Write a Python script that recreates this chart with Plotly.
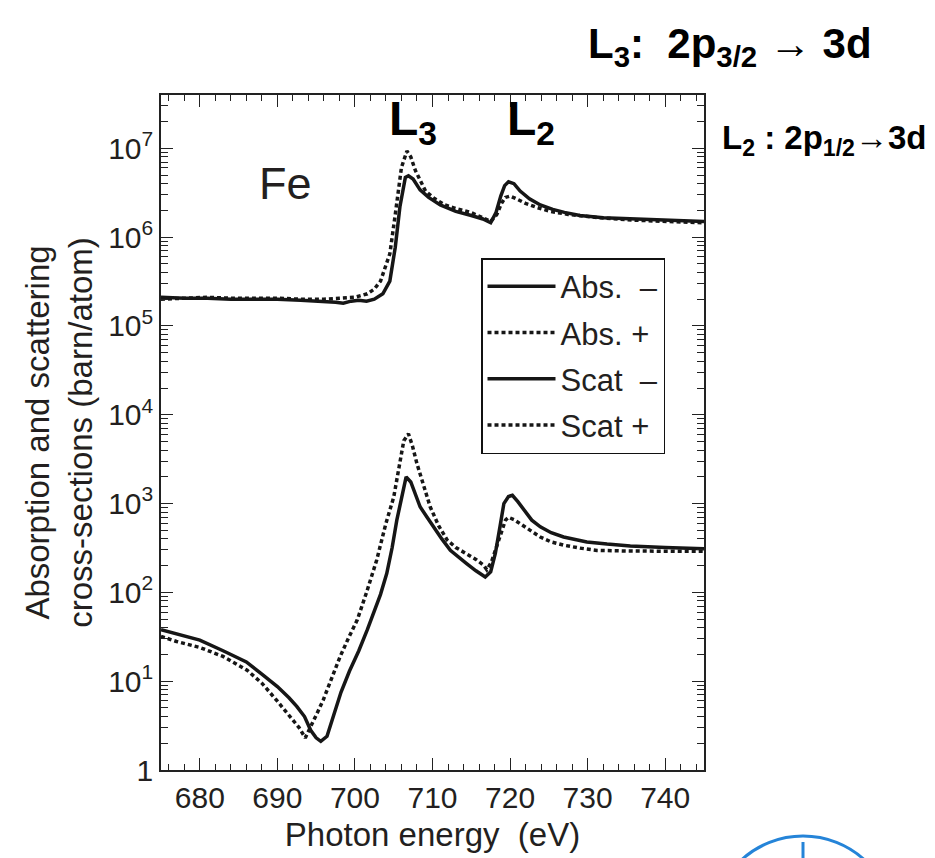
import plotly.graph_objects as go

# ---- Fe L-edge absorption and scattering cross-sections (barn/atom) ----
abs_minus_E = [675, 678, 681, 684, 687, 690, 693, 696, 697.5, 698.5, 699.5, 700.5, 701.5, 702.5,
               703.6, 704.5, 705.2, 705.8, 706.5, 706.9, 707.5, 708.4, 709.5, 711, 713, 715,
               716.5, 717.5, 718.2, 718.8, 719.3, 719.8, 720.5, 721.3, 722.5, 723.9, 725.5, 727,
               729, 732, 736, 740, 745]
abs_minus = [2.1e5, 2.05e5, 2.05e5, 2.0e5, 2.0e5, 2.0e5, 1.95e5, 1.9e5, 1.85e5, 1.8e5, 1.9e5,
             1.95e5, 1.9e5, 2.0e5, 2.3e5, 3.2e5, 7.7e5, 2.2e6, 4.7e6, 4.9e6, 4.5e6, 3.4e6,
             2.8e6, 2.3e6, 1.95e6, 1.75e6, 1.6e6, 1.45e6, 1.9e6, 2.9e6, 3.8e6, 4.2e6, 4.0e6,
             3.3e6, 2.7e6, 2.3e6, 2.05e6, 1.9e6, 1.75e6, 1.65e6, 1.6e6, 1.55e6, 1.5e6]

abs_plus_E = [675, 678, 681, 684, 687, 690, 693, 696, 698, 700, 701.6, 702.5, 703.3, 704.5,
              705.2, 706, 706.7, 707.2, 707.8, 708.4, 709.1, 710.3, 711.6, 713, 714.9, 716.5,
              717.5, 718.3, 718.9, 719.4, 720, 720.8, 722, 723.5, 725.2, 727.5, 731.6, 736,
              740, 745]
abs_plus = [2.0e5, 2.05e5, 2.1e5, 2.05e5, 2.05e5, 2.05e5, 2.0e5, 2.0e5, 2.05e5, 2.1e5, 2.3e5,
            2.6e5, 3.2e5, 6.5e5, 1.8e6, 6.1e6, 9.3e6, 8.0e6, 5.6e6, 4.3e6, 3.3e6, 2.7e6,
            2.3e6, 2.1e6, 1.9e6, 1.65e6, 1.5e6, 1.8e6, 2.4e6, 2.8e6, 2.9e6, 2.7e6, 2.4e6,
            2.15e6, 1.95e6, 1.8e6, 1.65e6, 1.55e6, 1.5e6, 1.45e6]

scat_minus_E = [675, 677, 680, 683, 686, 688, 690, 691.5, 692.5, 693.5, 694.3, 695, 695.6,
                696.4, 697.2, 698.2, 699.3, 700.5, 701.6, 702.4, 703.3, 704.1, 704.8, 705.4,
                706, 706.6, 707.2, 708.4, 709.3, 710.1, 711.2, 712.3, 713.3, 714.4, 715.6,
                716.8, 717.5, 718.1, 718.7, 719.2, 719.8, 720.3, 721, 721.8, 722.8, 723.9,
                725.3, 726.9, 728.4, 729.9, 732.5, 735.5, 740, 745]
scat_minus = [38, 34, 29, 22, 16.5, 12, 8.7, 6.5, 5.2, 4.0, 2.8, 2.3, 2.1, 2.4, 4, 7.5, 13,
              22, 38, 58, 95, 163, 320, 650, 1200, 2000, 1750, 920, 700, 546, 400, 297, 250,
              211, 175, 149, 170, 274, 550, 1000, 1200, 1240, 1050, 840, 650, 546, 470, 420,
              390, 370, 350, 333, 320, 310]

scat_plus_E = [675, 677, 680, 683, 686.1, 688, 689.9, 691.5, 692.8, 693.6, 694.5, 695.2,
               695.9, 697, 698.1, 699.2, 700.3, 701.5, 702.8, 704, 705, 705.7, 706.3, 706.9,
               707.4, 708, 708.8, 709.7, 710.8, 711.9, 713, 714.4, 715.6, 716.6, 717, 717.6,
               718.3, 718.9, 719.4, 719.8, 720.5, 721.3, 722.5, 723.9, 725.3, 726.9, 729,
               731.2, 735, 740, 745]
scat_plus = [32, 28, 24, 19, 13.3, 9.5, 6.1, 4.2, 3.0, 2.3, 3.3, 4.5, 6.1, 11, 19, 31, 49,
             100, 230, 600, 1180, 2600, 5100, 6100, 4500, 2800, 1600, 920, 560, 388, 320,
             274, 235, 202, 180, 220, 325, 480, 650, 700, 660, 590, 500, 420, 370, 340, 315,
             297, 292, 290, 290]

series_names = ["Abs.\u00a0\u00a0\u2013", "Abs.\u00a0+", "Scat\u00a0\u00a0\u2013", "Scat\u00a0+"]
x_ticks = [680, 690, 700, 710, 720, 730, 740]
y_tick_exps = [0, 1, 2, 3, 4, 5, 6, 7]

# ---- page geometry (pixels) ----
W, H = 935, 858
ML, MR, MT, MB = 161, 231, 95, 88
PW, PH = W - ML - MR, H - MT - MB


def px(x):
    return (x - ML) / PW


def py(y):
    return (H - MB - y) / PH


INK = "#231f20"
LINE = "#161616"
FONT = "Liberation Sans, Arial, sans-serif"

fig = go.Figure()
styles = [dict(width=3.5), dict(width=3.5, dash="4px,3px"),
          dict(width=3.5), dict(width=3.5, dash="4px,3px")]
data = [(abs_minus_E, abs_minus), (abs_plus_E, abs_plus),
        (scat_minus_E, scat_minus), (scat_plus_E, scat_plus)]
for i, ((xe, yv), name, st) in enumerate(zip(data, series_names, styles)):
    fig.add_trace(go.Scatter(x=xe, y=yv, mode="lines", name=name, legendgroup=f"g{i}",
                             line=dict(color=LINE, **st)))

y_minor = [k * 10 ** d for d in range(0, 8) for k in range(2, 10) if k * 10 ** d < 4e7]

fig.update_layout(
    width=W, height=H,
    margin=dict(l=ML, r=MR, t=MT, b=MB, pad=0),
    paper_bgcolor="white", plot_bgcolor="white",
    font=dict(family=FONT, color=INK, size=29),
    showlegend=True,
    legend=dict(x=px(481), y=py(258), xanchor="left", yanchor="top",
                bordercolor="#111", borderwidth=1.5, bgcolor="white",
                font=dict(size=31, color=INK), tracegroupgap=3,
                itemwidth=68, traceorder="grouped"),
    xaxis=dict(range=[675, 745], tickmode="array", tickvals=x_ticks,
               ticks="inside", ticklen=12, tickwidth=1.2, tickcolor="#222",
               showline=True, linecolor="#222", linewidth=1.5, mirror="ticks",
               showgrid=False, zeroline=False, tickfont=dict(size=30),
               minor=dict(ticks="inside", ticklen=6, tickwidth=1.1, tickcolor="#222",
                          dtick=2, tick0=676, showgrid=False),
               title=dict(text="Photon energy  (eV)", font=dict(size=33), standoff=10)),
    yaxis=dict(type="log", range=[0, 7.6], tickmode="array",
               tickvals=[10 ** e for e in y_tick_exps],
               ticktext=["1"] + [f"10<sup>{e}</sup>" for e in y_tick_exps[1:]],
               ticks="inside", ticklen=12, tickwidth=1.2, tickcolor="#222",
               showline=True, linecolor="#222", linewidth=1.5, mirror="ticks",
               showgrid=False, zeroline=False, tickfont=dict(size=30),
               minor=dict(ticks="inside", ticklen=7, tickwidth=1.1, tickcolor="#222",
                          tickmode="array", tickvals=y_minor, showgrid=False),
               title=dict(text="Absorption and scattering<br>cross-sections (barn/atom)",
                          font=dict(size=33), standoff=6)),
)

annotations = [
    dict(text="Fe", x=px(285), y=py(183), font=dict(size=45, color=INK)),
    dict(text="<b>L<sub>3</sub></b>", x=px(413), y=py(122), font=dict(size=48, color="black")),
    dict(text="<b>L<sub>2</sub></b>", x=px(531), y=py(122), font=dict(size=48, color="black")),
    dict(text="<b>L<sub>3</sub>:  2p<sub>3/2</sub> \u2192 3d</b>", x=px(730), y=py(47),
         font=dict(size=42, color="black")),
    dict(text="<b>L<sub>2</sub> : 2p<sub>1/2</sub>\u21923d</b>", x=px(824), y=py(140),
         font=dict(size=33, color="black")),
]
for a in annotations:
    a.update(xref="paper", yref="paper", showarrow=False, xanchor="center", yanchor="middle")
fig.update_layout(annotations=annotations)

# pen mark at the bottom right corner of the page
fig.add_shape(type="circle", xref="paper", yref="paper",
              x0=px(712), x1=px(894), y0=py(836), y1=py(1018),
              line=dict(color="#2584d8", width=3))
fig.add_shape(type="line", xref="paper", yref="paper",
              x0=px(803), x1=px(803), y0=py(842), y1=py(858),
              line=dict(color="#2584d8", width=3))

fig.write_html("out.html")
